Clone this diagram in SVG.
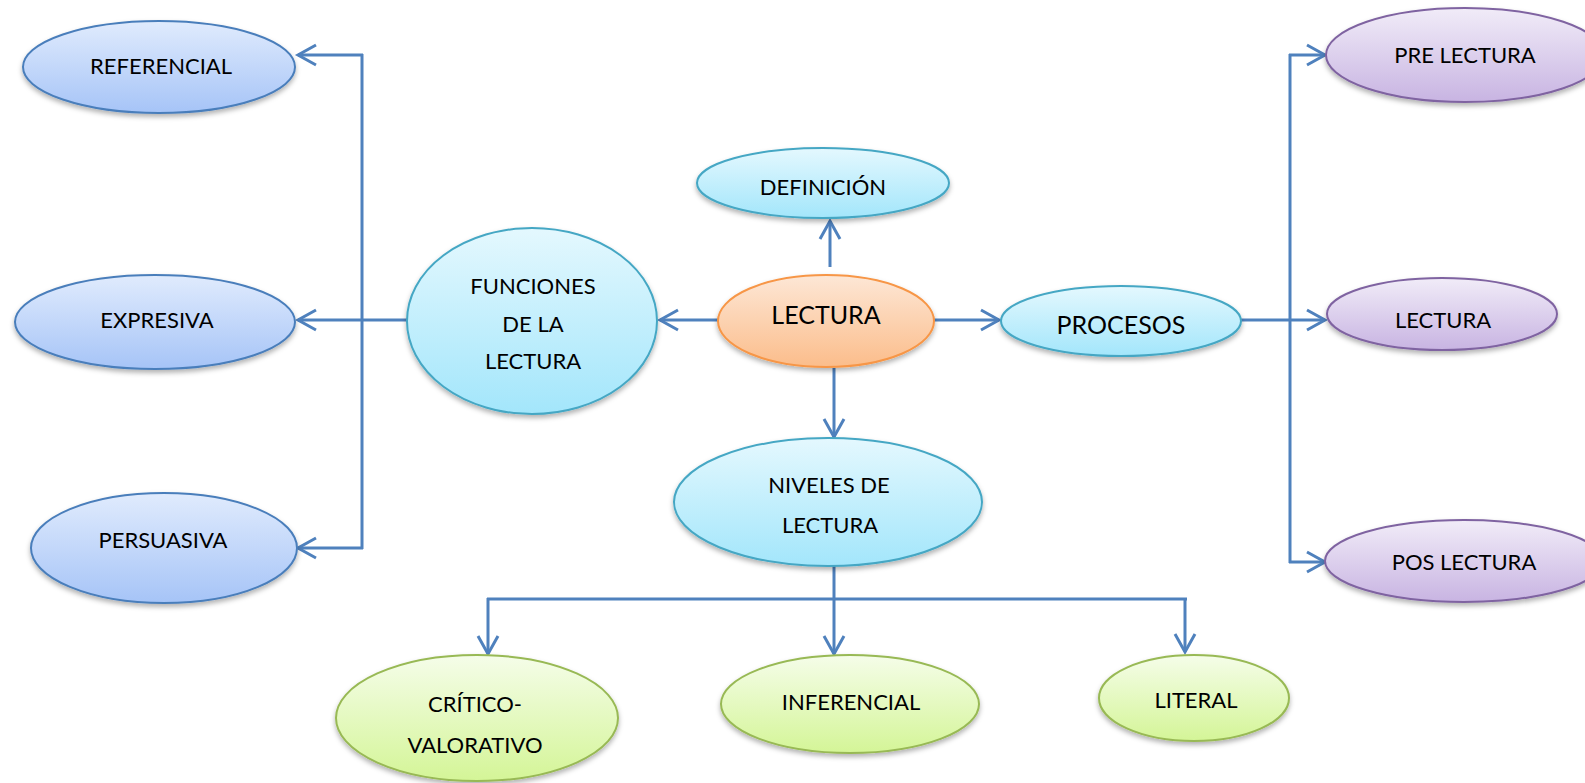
<svg xmlns="http://www.w3.org/2000/svg" width="1585" height="783" viewBox="0 0 1585 783">
<defs>
<linearGradient id="gBlue" x1="0" y1="0" x2="0" y2="1"><stop offset="0" stop-color="#e0ebfd"/><stop offset="1" stop-color="#a6c4f7"/></linearGradient>
<linearGradient id="gCyan" x1="0" y1="0" x2="0" y2="1"><stop offset="0" stop-color="#e4f8fe"/><stop offset="1" stop-color="#a3e6fb"/></linearGradient>
<linearGradient id="gOrange" x1="0" y1="0" x2="0" y2="1"><stop offset="0" stop-color="#fde7d6"/><stop offset="1" stop-color="#fbbd8b"/></linearGradient>
<linearGradient id="gPurple" x1="0" y1="0" x2="0" y2="1"><stop offset="0" stop-color="#f1ecf8"/><stop offset="1" stop-color="#c8b4e2"/></linearGradient>
<linearGradient id="gGreen" x1="0" y1="0" x2="0" y2="1"><stop offset="0" stop-color="#f5fde9"/><stop offset="1" stop-color="#d4f597"/></linearGradient>
<filter id="sh" x="-10%" y="-10%" width="120%" height="130%"><feDropShadow dx="0" dy="3" stdDeviation="2.5" flood-color="#000" flood-opacity="0.3"/></filter>
<marker id="arr" markerUnits="userSpaceOnUse" viewBox="-22 -12 26 24" refX="0" refY="0" markerWidth="26" markerHeight="24" orient="auto" overflow="visible">
<path d="M-18,-10 L0,0 L-18,10" fill="none" stroke="#4f81bd" stroke-width="3" stroke-linejoin="miter"/>
</marker>
</defs>
<style>
.n{filter:url(#sh);stroke-width:2}
.blue{fill:url(#gBlue);stroke:#4a7ebb}
.cyan{fill:url(#gCyan);stroke:#45a7c4}
.orange{fill:url(#gOrange);stroke:#f79646}
.purple{fill:url(#gPurple);stroke:#7f63a1}
.green{fill:url(#gGreen);stroke:#98b954}
text{font-family:Lato,"Open Sans","Liberation Sans",sans-serif;font-size:22px;fill:#000;text-anchor:middle}
.big{font-size:25px}
.c{fill:none;stroke:#4f81bd;stroke-width:3}
.a{marker-end:url(#arr)}
</style>
<rect width="1585" height="783" fill="#fff"/>
<g id="connectors">
<line class="c a" x1="830" y1="267" x2="830" y2="221"/>
<line class="c a" x1="718" y1="320" x2="660" y2="320"/>
<line class="c a" x1="934" y1="320" x2="999" y2="320"/>
<line class="c a" x1="834" y1="368" x2="834" y2="437"/>
<line class="c a" x1="407" y1="320" x2="298" y2="320"/>
<line class="c" x1="362" y1="54" x2="362" y2="549"/>
<line class="c a" x1="363" y1="55" x2="298" y2="55"/>
<line class="c a" x1="363" y1="548" x2="298" y2="548"/>
<line class="c a" x1="1241" y1="320" x2="1325" y2="320"/>
<line class="c" x1="1290" y1="54" x2="1290" y2="563"/>
<line class="c a" x1="1289" y1="55" x2="1325" y2="55"/>
<line class="c a" x1="1289" y1="562" x2="1325" y2="562"/>
<line class="c a" x1="834" y1="565" x2="834" y2="654"/>
<line class="c" x1="487" y1="599" x2="1187" y2="599"/>
<line class="c a" x1="488" y1="598" x2="488" y2="654"/>
<line class="c a" x1="1185" y1="598" x2="1185" y2="652"/>
</g>
<g id="lectura"><ellipse class="n orange" cx="826" cy="321" rx="108" ry="46"/><text class="big" x="826" y="324">LECTURA</text></g>
<g id="definicion"><ellipse class="n cyan" cx="823" cy="183" rx="126" ry="35"/><text x="823" y="195">DEFINICIÓN</text></g>
<g id="funciones"><ellipse class="n cyan" cx="532" cy="321" rx="125" ry="93"/><text x="533" y="294">FUNCIONES</text><text x="533" y="332">DE LA</text><text x="533" y="369">LECTURA</text></g>
<g id="procesos"><ellipse class="n cyan" cx="1121" cy="321" rx="120" ry="35"/><text class="big" x="1121" y="334">PROCESOS</text></g>
<g id="niveles"><ellipse class="n cyan" cx="828" cy="502" rx="154" ry="64"/><text x="829" y="493">NIVELES DE</text><text x="830" y="533">LECTURA</text></g>
<g id="referencial"><ellipse class="n blue" cx="159" cy="67" rx="136" ry="46"/><text x="161" y="74">REFERENCIAL</text></g>
<g id="expresiva"><ellipse class="n blue" cx="155" cy="322" rx="140" ry="47"/><text x="157" y="328">EXPRESIVA</text></g>
<g id="persuasiva"><ellipse class="n blue" cx="164" cy="548" rx="133" ry="55"/><text x="163" y="548">PERSUASIVA</text></g>
<g id="prelectura"><ellipse class="n purple" cx="1465" cy="55" rx="139" ry="47"/><text x="1465" y="63">PRE LECTURA</text></g>
<g id="lectura2"><ellipse class="n purple" cx="1442" cy="314" rx="115" ry="36"/><text x="1443" y="328">LECTURA</text></g>
<g id="poslectura"><ellipse class="n purple" cx="1464" cy="561" rx="139" ry="41"/><text x="1464" y="570">POS LECTURA</text></g>
<g id="critico"><ellipse class="n green" cx="477" cy="718" rx="141" ry="63"/><text x="475" y="712">CRÍTICO-</text><text x="475" y="753">VALORATIVO</text></g>
<g id="inferencial"><ellipse class="n green" cx="850" cy="704" rx="129" ry="49"/><text x="851" y="710">INFERENCIAL</text></g>
<g id="literal"><ellipse class="n green" cx="1194" cy="698" rx="95" ry="43"/><text x="1196" y="708">LITERAL</text></g>
</svg>
